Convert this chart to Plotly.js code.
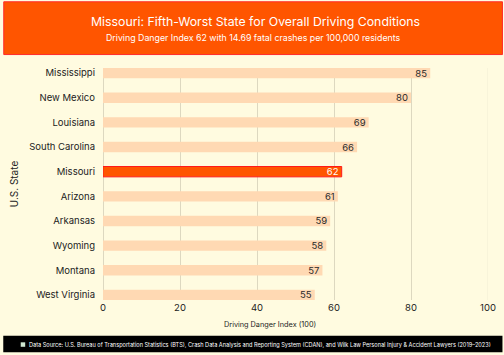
<!DOCTYPE html>
<html><head><meta charset="utf-8">
<script src="https://cdn.plot.ly/plotly-3.0.1.min.js"></script>
<style>html,body{margin:0;padding:0;background:#FFFBE0}#c{width:504px;height:355px}</style></head>
<body><div id="c"></div>
<script>
const states = ["Mississippi","New Mexico","Louisiana","South Carolina","Missouri","Arizona","Arkansas","Wyoming","Montana","West Virginia"];
const index = [85,80,69,66,62,61,59,58,57,55];
const highlight = "Missouri";
const xTicks = [0,20,40,60,80,100];
const titleText = "Missouri: Fifth-Worst State for Overall Driving Conditions";
const subtitleText = "Driving Danger Index 62 with 14.69 fatal crashes per 100,000 residents";
const xTitleText = "Driving Danger Index (100)";
const sourceText = "Data Source: U.S. Bureau of Transportation Statistics (BTS), Crash Data Analysis and Reporting System (CDAN), and Wilk Law Personal Injury & Accident Lawyers (2019–2023)";
const font = "Inter, Lato, sans-serif";
const W = 504, H = 355;
const L = 102.5, R = 488.5, T = 67.5, B = 300.5;
const px = v => (v - L) / (R - L), py = v => (B - v) / (B - T);
const isH = states.map(s => s === highlight);
Plotly.newPlot("c", [{
  type: "bar", orientation: "h", x: index, y: states,
  text: index.map(String), textposition: "inside", insidetextanchor: "end", constraintext: "none",
  textangle: 0,
  textfont: {family: font, size: 9.5, color: isH.map(h => h ? "#ffffff" : "#2a2a2a")},
  marker: {color: isH.map(h => h ? "#FF5500" : "#FFD9B3"),
           line: {color: isH.map(h => h ? "#FF1A1A" : "#FFD9B3"), width: isH.map(h => h ? 1 : 0)}},
  cliponaxis: false, hoverinfo: "skip"
}], {
  width: W, height: H, showlegend: false,
  paper_bgcolor: "#FFFBE0", plot_bgcolor: "#FFFBE0",
  margin: {l: L, r: W - R, t: T, b: H - B, pad: 0},
  bargap: 0.58,
  font: {family: font, color: "#222"},
  xaxis: {range: [0,100], tickvals: xTicks, ticktext: xTicks.map(String), showgrid: true, gridcolor: "#DDD8C0", gridwidth: 1,
          zeroline: true, zerolinecolor: "#DDD8C0", zerolinewidth: 1, showline: false, ticks: "", ticklen: 0, ticklabelstandoff: 0,
          tickfont: {family: font, size: 9.5, color: "#222"}},
  yaxis: {range: [9.205,-0.205], type: "category", showgrid: false, showline: false, ticks: "", ticklen: 0, ticklabelstandoff: 7,
          tickfont: {family: font, size: 9.5, color: "#222"},
          title: {text: "U.S. State", font: {family: font, size: 10, color: "#222"}, standoff: 8}},
  shapes: [
    {type:"rect", xref:"paper", yref:"paper", x0:px(3), x1:px(503), y0:py(54), y1:py(1), fillcolor:"#FF5500", line:{color:"#FF2A2A", width:1}, layer:"below"},
    {type:"rect", xref:"paper", yref:"paper", x0:px(2.5), x1:px(503), y0:py(353), y1:py(336.5), fillcolor:"#000000", line:{width:0}, layer:"below"},
    {type:"rect", xref:"paper", yref:"paper", x0:px(20), x1:px(24.5), y0:py(347.5), y1:py(343), fillcolor:"#CFE8D0", line:{width:0}},
    {type:"line", xref:"x", yref:"paper", x0:100, x1:100, y0:0, y1:1, line:{color:"#F0ECD4", width:1}, layer:"below"}
  ],
  annotations: [
    {xref:"paper", yref:"paper", x:px(255.5), y:py(20.5), text:titleText, showarrow:false, xanchor:"center", yanchor:"middle", font:{family:font, size:12.3, color:"#fff"}},
    {xref:"paper", yref:"paper", x:px(253), y:py(36.5), text:subtitleText, showarrow:false, xanchor:"center", yanchor:"middle", font:{family:font, size:8.8, color:"#fff"}},
    {xref:"paper", yref:"paper", x:px(269.5), y:py(325.5), text:xTitleText, showarrow:false, xanchor:"center", yanchor:"middle", font:{family:font, size:7.3, color:"#222"}},
    {xref:"paper", yref:"paper", x:px(26.5), y:py(345.2), text:sourceText, showarrow:false, xanchor:"left", yanchor:"middle", font:{family:font, size:5.6, color:"#fff"}}
  ]
}, {staticPlot: true, displayModeBar: false});
</script></body></html>
